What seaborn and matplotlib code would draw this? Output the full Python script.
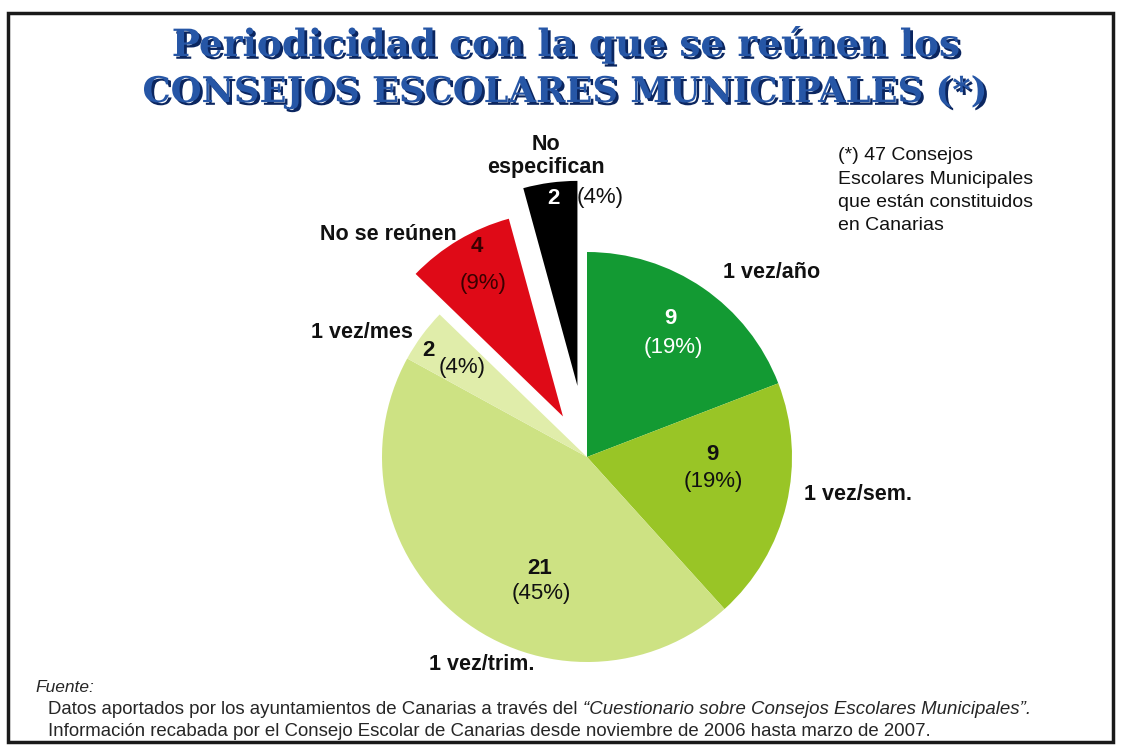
import matplotlib.pyplot as plt
import matplotlib.patheffects as pe
from matplotlib.patches import Rectangle
import seaborn as sns

# Data
categories = ['1 vez/año', '1 vez/sem.', '1 vez/trim.', '1 vez/mes', 'No se reúnen', 'No\nespecifican']
values = [9, 9, 21, 2, 4, 2]
colors = ['#139a33', '#99c526', '#cde283', '#e0edaa', '#df0a17', '#000000']
explode = [0, 0, 0, 0, 0.23, 0.35]
total_note = 47

sns.set_theme(style='white')
plt.rcParams['font.family'] = ['Liberation Sans', 'DejaVu Sans']

W, H = 1121, 745
fig = plt.figure(figsize=(W / 100, H / 100), dpi=100)
fig.patch.set_facecolor('white')


def fp(x, y):
    return x / W, 1 - y / H


# pie centre (587, 457) px, radius 205 px
cx, cy, r = 587, 457, 205
ax = fig.add_axes([0, 0, 1, 1])
ax.pie(values, colors=colors, explode=explode, startangle=90, counterclock=False,
       radius=1, wedgeprops=dict(linewidth=0))
ax.set_xlim(-cx / r, (W - cx) / r)
ax.set_ylim(-(H - cy) / r, cy / r)
ax.axis('off')

# frame
fig.add_artist(Rectangle(fp(8, 742), (1113 - 8) / W, (742 - 13) / H, transform=fig.transFigure,
                         fill=False, edgecolor='#1a1a1a', linewidth=2.5))

# title
title_fx = [pe.withSimplePatchShadow(offset=(2, -2), shadow_rgbFace='#0b2660', alpha=1)]
for txt, y, fs in [('Periodicidad con la que se reúnen los', 45, 27),
                   ('CONSEJOS ESCOLARES MUNICIPALES (*)', 92, 25.5)]:
    fig.text(*fp(565, y), txt, ha='center', va='center', fontsize=fs, fontweight='bold',
             family='DejaVu Serif', color='#2656a6', path_effects=title_fx)

# note
fig.text(*fp(838, 147), f'(*) {total_note} Consejos\nEscolares Municipales\nque están constituidos\nen Canarias',
         ha='left', va='top', fontsize=14, linespacing=1.5, color='#111111')

# slice labels
pct = [round(v * 100 / sum(values)) for v in values]
value_pos = [(670, 318), (712, 455), (540, 568), (428, 351), (477, 247), (553, 198)]
pct_pos = [(673, 347), (713, 482), (541, 593), (462, 368), (483, 283), (600, 198)]
value_col = ['white', '#111111', '#111111', '#111111', '#3a0000', 'white']
pct_col = ['white', '#111111', '#111111', '#111111', '#3a0000', '#111111']
cat_pos = [(772, 272), (858, 494), (482, 665), (362, 332), (388, 234), (546, 156)]

for i, v in enumerate(values):
    fig.text(*fp(*value_pos[i]), str(v), ha='center', va='center', fontsize=16,
             fontweight='bold', color=value_col[i])
    fig.text(*fp(*pct_pos[i]), f'({pct[i]}%)', ha='center', va='center', fontsize=16,
             color=pct_col[i])
    fig.text(*fp(*cat_pos[i]), categories[i], ha='center', va='center', fontsize=15.5,
             fontweight='bold', color='#111111', linespacing=1.1)

# source
foot = ['Liberation Sans', 'DejaVu Sans']
fs_foot = 13.4
fig.text(*fp(35, 688), 'Fuente:', ha='left', va='center', fontsize=12.5, style='italic', family=foot)
t = fig.text(*fp(48, 710), 'Datos aportados por los ayuntamientos de Canarias a través del ',
             ha='left', va='center', fontsize=fs_foot, family=foot)
fig.canvas.draw()
bb = t.get_window_extent()
fig.text(bb.x1 / W, 1 - 710 / H, '“Cuestionario sobre Consejos Escolares Municipales”.',
         ha='left', va='center', fontsize=fs_foot, style='italic', family=foot)
fig.text(*fp(48, 731), 'Información recabada por el Consejo Escolar de Canarias desde noviembre de 2006 hasta marzo de 2007.',
         ha='left', va='center', fontsize=fs_foot, family=foot)

fig.savefig('out.png', dpi=100)
